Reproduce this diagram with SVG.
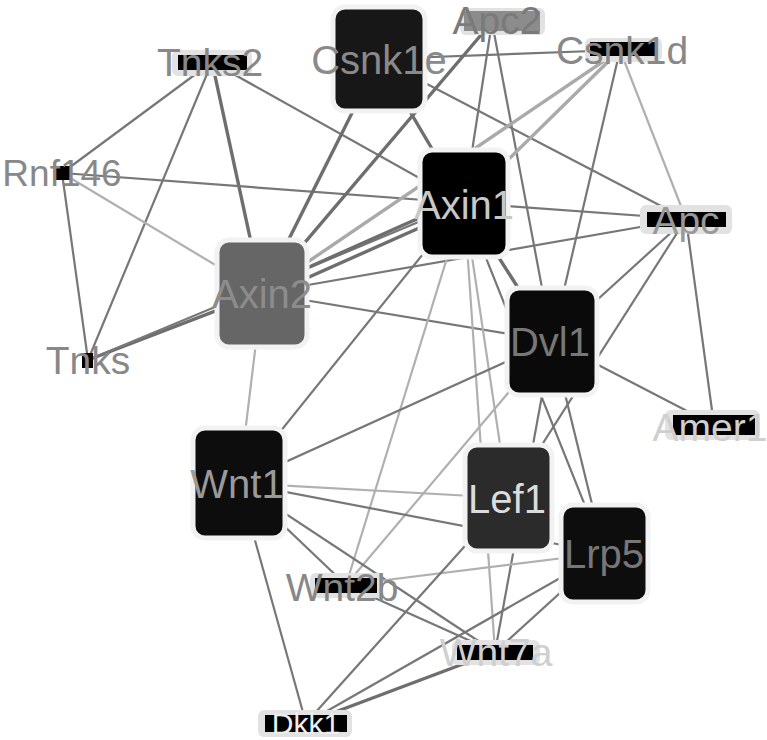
<svg xmlns="http://www.w3.org/2000/svg" width="767" height="740" viewBox="0 0 767 740">
<style>
.e{stroke:#777;stroke-width:2.2;fill:none}
.l{stroke:#b0b0b0;stroke-width:2.2;fill:none}
.t{stroke:#6e6e6e;stroke-width:3.4;fill:none}
.lt{stroke:#aaa;stroke-width:3.4;fill:none}
.big{stroke:#f2f2f2;stroke-width:5}
.halo{fill:#e2e2e2}
.sm{fill:#000}
text{font-family:"Liberation Sans",Arial,sans-serif;text-anchor:middle}
.bl{font-size:40px}
.sl{font-size:39px}
</style>
<rect width="767" height="740" fill="#fff"/>
<g id="connectors">
<line class="e" x1="212" y1="62" x2="62" y2="173"/>
<line class="e" x1="212" y1="62" x2="88" y2="360"/>
<line class="t" x1="212" y1="62" x2="262" y2="293"/>
<line class="e" x1="212" y1="62" x2="464" y2="203"/>
<line class="e" x1="62" y1="173" x2="88" y2="360"/>
<line class="e" x1="62" y1="173" x2="464" y2="203"/>
<line class="l" x1="62" y1="173" x2="262" y2="293"/>
<line class="t" x1="88" y1="360" x2="262" y2="293"/>
<line class="e" x1="88" y1="360" x2="464" y2="203"/>
<line class="t" x1="379" y1="59" x2="262" y2="293"/>
<line class="t" x1="379" y1="59" x2="464" y2="203"/>
<line class="e" x1="379" y1="59" x2="620" y2="50"/>
<line class="e" x1="379" y1="59" x2="686" y2="219"/>
<line class="t" x1="492" y1="22" x2="262" y2="293"/>
<line class="e" x1="492" y1="22" x2="464" y2="203"/>
<line class="e" x1="492" y1="22" x2="552" y2="341"/>
<line class="lt" x1="620" y1="50" x2="262" y2="293"/>
<line class="lt" x1="620" y1="50" x2="464" y2="203"/>
<line class="e" x1="620" y1="50" x2="552" y2="341"/>
<line class="l" x1="620" y1="50" x2="686" y2="219"/>
<line class="t" x1="464" y1="198" x2="262" y2="288"/>
<line class="t" x1="464" y1="208" x2="262" y2="298"/>
<line class="e" x1="464" y1="203" x2="686" y2="219"/>
<line class="e" x1="262" y1="293" x2="686" y2="219"/>
<line class="t" x1="464" y1="203" x2="552" y2="341"/>
<line class="e" x1="262" y1="293" x2="552" y2="341"/>
<line class="e" x1="686" y1="219" x2="552" y2="341"/>
<line class="e" x1="686" y1="219" x2="508" y2="498"/>
<line class="e" x1="686" y1="219" x2="714" y2="425"/>
<line class="e" x1="552" y1="341" x2="714" y2="425"/>
<line class="l" x1="464" y1="203" x2="508" y2="498"/>
<line class="l" x1="464" y1="203" x2="495" y2="652"/>
<line class="e" x1="464" y1="203" x2="604" y2="553"/>
<line class="e" x1="552" y1="341" x2="604" y2="553"/>
<line class="e" x1="552" y1="341" x2="495" y2="652"/>
<line class="e" x1="464" y1="203" x2="239" y2="483"/>
<line class="l" x1="464" y1="203" x2="346" y2="585"/>
<line class="e" x1="552" y1="341" x2="239" y2="483"/>
<line class="l" x1="552" y1="341" x2="346" y2="585"/>
<line class="l" x1="262" y1="293" x2="239" y2="483"/>
<line class="l" x1="239" y1="483" x2="508" y2="498"/>
<line class="e" x1="239" y1="483" x2="604" y2="553"/>
<line class="e" x1="239" y1="483" x2="346" y2="585"/>
<line class="e" x1="239" y1="483" x2="495" y2="652"/>
<line class="e" x1="239" y1="483" x2="306" y2="723"/>
<line class="l" x1="346" y1="585" x2="604" y2="553"/>
<line class="e" x1="346" y1="585" x2="495" y2="652"/>
<line class="e" x1="508" y1="498" x2="306" y2="723"/>
<line class="e" x1="604" y1="553" x2="306" y2="723"/>
<line class="e" x1="604" y1="553" x2="495" y2="652"/>
<line class="t" x1="495" y1="652" x2="306" y2="723"/>
</g>
<g id="Csnk1e"><rect class="big" x="333" y="7" width="92" height="104" rx="12" fill="#171717"/><text class="bl" x="379" y="74" fill="#8a8a8a">Csnk1e</text></g>
<g id="Axin1"><rect class="big" x="420" y="150" width="88" height="107" rx="12" fill="#000"/><text class="bl" x="464" y="219" fill="#c8c8c8">Axin1</text></g>
<g id="Axin2"><rect class="big" x="217" y="240" width="90" height="107" rx="12" fill="#666"/><text class="bl" x="262" y="308" fill="#8c8c8c">Axin2</text></g>
<g id="Dvl1"><rect class="big" x="507" y="288" width="90" height="107" rx="12" fill="#0a0a0a"/><text class="bl" x="550" y="356" fill="#777">Dvl1</text></g>
<g id="Wnt1"><rect class="big" x="193" y="428" width="92" height="110" rx="12" fill="#0d0d0d"/><text class="bl" x="237" y="498" fill="#9a9a9a">Wnt1</text></g>
<g id="Lef1"><rect class="big" x="465" y="445" width="87" height="106" rx="12" fill="#2b2b2b"/><text class="bl" x="507" y="513" fill="#dcdcdc">Lef1</text></g>
<g id="Lrp5"><rect class="big" x="561" y="505" width="87" height="97" rx="12" fill="#0d0d0d"/><text class="bl" x="604" y="568" fill="#777">Lrp5</text></g>
<g id="Apc2"><rect class="halo" x="460" y="8" width="85" height="27" rx="6"/><rect x="464" y="11" width="76" height="20" fill="#8c8c8c"/><text class="sl" x="497" y="34" fill="#7a7a7a">Apc2</text></g>
<g id="Csnk1d"><rect class="halo" x="585" y="38" width="77" height="24" rx="6"/><rect class="sm" x="590" y="42" width="67" height="14"/><text class="sl" x="622" y="64" fill="#888">Csnk1d</text></g>
<g id="Tnks2"><rect class="halo" x="172" y="50" width="80" height="26" rx="6"/><rect class="sm" x="178" y="55" width="69" height="15"/><text class="sl" x="210" y="76" fill="#888">Tnks2</text></g>
<g id="Rnf146"><rect class="sm" x="55" y="166" width="15" height="14"/><text x="62" y="186" font-size="37" fill="#888">Rnf146</text></g>
<g id="Tnks"><rect class="sm" x="82" y="353" width="11" height="15"/><text class="sl" x="88" y="374" fill="#888">Tnks</text></g>
<g id="Apc"><rect class="halo" x="640" y="205" width="92" height="29" rx="6"/><rect class="sm" x="647" y="212" width="79" height="15"/><text class="sl" x="686" y="234" fill="#999">Apc</text></g>
<g id="Amer1"><rect class="halo" x="665" y="410" width="95" height="30" rx="6"/><rect class="sm" x="673" y="415" width="82" height="20"/><text class="sl" x="710" y="441" fill="#cfcfcf">Amer1</text></g>
<g id="Wnt2b"><rect class="halo" x="310" y="573" width="73" height="25" rx="6"/><rect class="sm" x="315" y="578" width="62" height="15"/><text class="sl" x="342" y="601" fill="#888">Wnt2b</text></g>
<g id="Wnt7a"><rect class="halo" x="452" y="640" width="88" height="25" rx="6"/><rect class="sm" x="457" y="645" width="76" height="15"/><text class="sl" x="496" y="666" fill="#cfcfcf">Wnt7a</text></g>
<g id="Dkk1"><rect class="halo" x="258" y="710" width="94" height="27" rx="6"/><rect class="sm" x="265" y="715" width="82" height="17"/><text x="306" y="734" font-size="30" fill="#eee">Dkk1</text></g>
</svg>
